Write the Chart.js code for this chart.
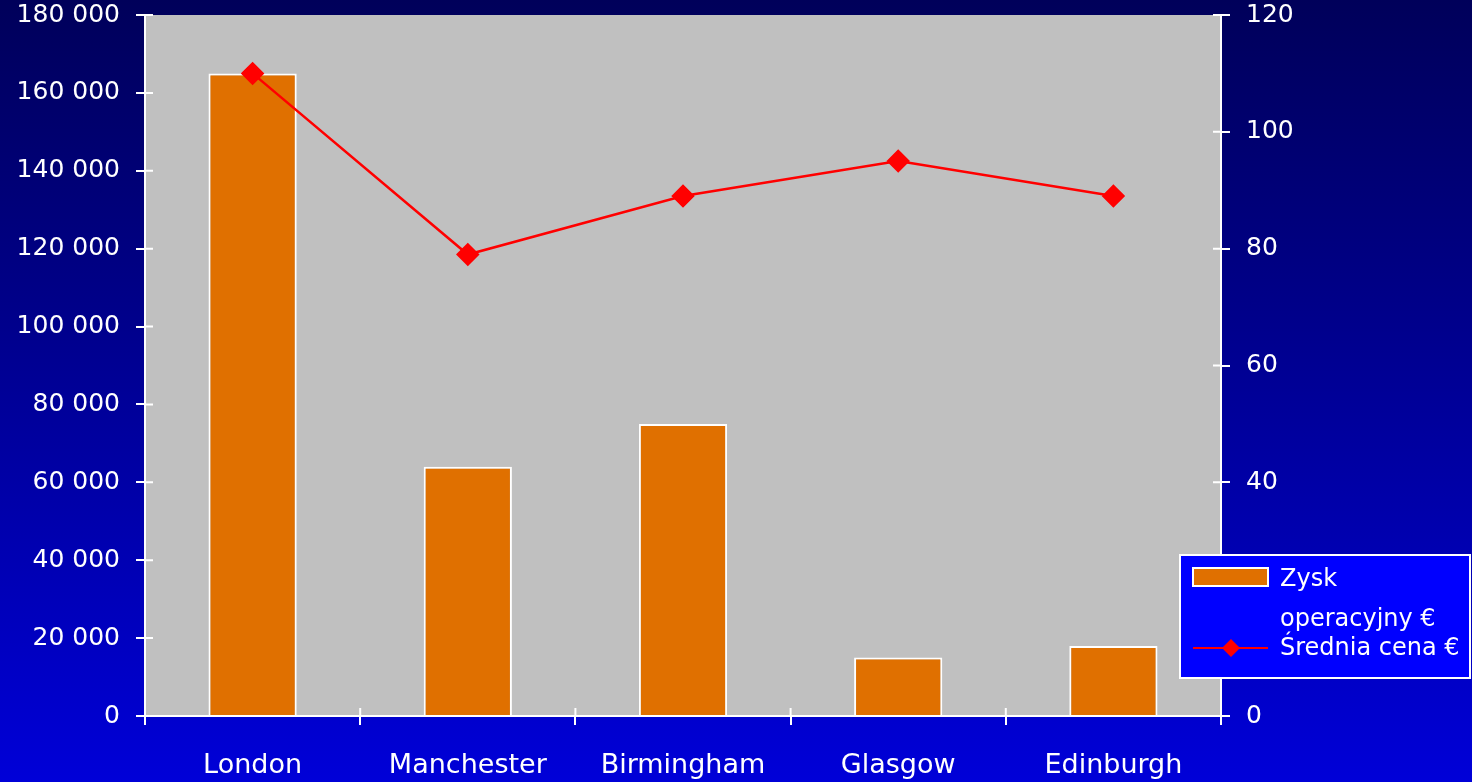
<!DOCTYPE html>
<html>
<head>
<meta charset="utf-8">
<script src="https://cdn.jsdelivr.net/npm/chart.js@4"></script>
<style>
  html, body { margin: 0; padding: 0; }
  body {
    width: 1472px; height: 782px; overflow: hidden;
    background: linear-gradient(to bottom, #00005a 0%, #00008a 40%, #0000d8 100%);
  }
  #wrap { position: relative; width: 1472px; height: 782px; }
</style>
</head>
<body>
<div id="wrap"><canvas id="chart"></canvas></div>
<script>
const cities = ['London', 'Manchester', 'Birmingham', 'Glasgow', 'Edinburgh'];
const profit = [165000, 64000, 75000, 15000, 18000];
const avgPrice = [110, 79, 89, 95, 89];
const profitLabel = ['Zysk', 'operacyjny €'];
const priceLabel = 'Średnia cena €';

const FONT = '"DejaVu Sans", Verdana, sans-serif';

// szare tło obszaru wykresu
const plotBg = {
    id: 'plotBg',
    beforeDraw(chart) {
        const { ctx, chartArea: a } = chart;
        ctx.save();
        ctx.fillStyle = '#c0c0c0';
        ctx.fillRect(a.left, a.top, a.right - a.left, a.bottom - a.top);
        ctx.restore();
    }
};

// wewnętrzna część kresek osi + legenda
const extras = {
    id: 'extras',
    afterDraw(chart) {
        const { ctx, chartArea: a, scales } = chart;
        ctx.save();
        ctx.strokeStyle = '#ffffff';
        ctx.lineWidth = 2;
        ctx.beginPath();
        scales.y.ticks.forEach((t, i) => {
            const y = scales.y.getPixelForTick(i);
            ctx.moveTo(a.left, y); ctx.lineTo(a.left + 8, y);
        });
        scales.y1.ticks.forEach((t, i) => {
            const y = scales.y1.getPixelForTick(i);
            ctx.moveTo(a.right, y); ctx.lineTo(a.right - 8, y);
        });
        const step = (a.right - a.left) / cities.length;
        for (let i = 0; i <= cities.length; i++) {
            const x = a.left + step * i;
            ctx.moveTo(x, a.bottom); ctx.lineTo(x, a.bottom - 8);
        }
        ctx.stroke();

        // legenda
        const lx = 1180, ly = 555, lw = 290, lh = 123;
        ctx.fillStyle = '#0000ff';
        ctx.fillRect(lx, ly, lw, lh);
        ctx.strokeStyle = '#ffffff';
        ctx.lineWidth = 2;
        ctx.strokeRect(lx, ly, lw, lh);

        ctx.fillStyle = '#e07000';
        ctx.fillRect(1193, 568, 75, 18);
        ctx.strokeRect(1193, 568, 75, 18);

        ctx.strokeStyle = '#ff0000';
        ctx.lineWidth = 2;
        ctx.beginPath();
        ctx.moveTo(1193, 648); ctx.lineTo(1268, 648);
        ctx.stroke();
        ctx.fillStyle = '#ff0000';
        ctx.beginPath();
        ctx.moveTo(1231, 639); ctx.lineTo(1240, 648); ctx.lineTo(1231, 657); ctx.lineTo(1222, 648);
        ctx.closePath();
        ctx.fill();

        ctx.fillStyle = '#ffffff';
        ctx.font = '24px ' + FONT;
        ctx.textBaseline = 'middle';
        ctx.textAlign = 'left';
        ctx.fillText(profitLabel[0], 1280, 580);
        ctx.fillText(profitLabel[1], 1280, 620);
        ctx.fillText(priceLabel, 1280, 649);
        ctx.restore();
    }
};

const fmt = v => String(v).replace(/\B(?=(\d{3})+(?!\d))/g, ' ');

new Chart(document.getElementById('chart'), {
    data: {
        labels: cities,
        datasets: [
            {
                type: 'line',
                label: priceLabel,
                data: avgPrice,
                yAxisID: 'y1',
                borderColor: '#ff0000',
                backgroundColor: '#ff0000',
                borderWidth: 2.5,
                pointStyle: 'rectRot',
                pointRadius: 10,
                pointHoverRadius: 10,
                tension: 0,
                order: 0
            },
            {
                type: 'bar',
                label: profitLabel.join(' '),
                data: profit,
                yAxisID: 'y',
                backgroundColor: '#e07000',
                borderColor: '#ffffff',
                borderWidth: 2,
                barPercentage: 0.41,
                categoryPercentage: 1,
                order: 1
            }
        ]
    },
    options: {
        responsive: true,
        maintainAspectRatio: false,
        animation: false,
        layout: { padding: { top: 15 } },
        plugins: { legend: { display: false }, tooltip: { enabled: false } },
        scales: {
            x: {
                afterFit(s) { s.height = 66; s.paddingLeft = 0; s.paddingRight = 0; },
                grid: { drawOnChartArea: false, color: '#ffffff', lineWidth: 2, tickLength: 9, offset: true },
                border: { color: '#ffffff', width: 2 },
                ticks: { color: '#ffffff', font: { family: FONT, size: 27 }, padding: 25 }
            },
            y: {
                position: 'left',
                min: 0, max: 180000,
                afterFit(s) { s.width = 145; s.paddingTop = 0; s.paddingBottom = 0; },
                grid: { drawOnChartArea: false, color: '#ffffff', lineWidth: 2, tickLength: 9 },
                border: { color: '#ffffff', width: 2 },
                ticks: { stepSize: 20000, color: '#ffffff', font: { family: FONT, size: 25 }, padding: 16, callback: v => fmt(v) }
            },
            y1: {
                position: 'right',
                min: 0, max: 120,
                afterFit(s) { s.width = 251; s.paddingTop = 0; s.paddingBottom = 0; },
                grid: { drawOnChartArea: false, color: '#ffffff', lineWidth: 2, tickLength: 9 },
                border: { color: '#ffffff', width: 2 },
                ticks: { stepSize: 20, color: '#ffffff', font: { family: FONT, size: 25 }, padding: 16 }
            }
        }
    },
    plugins: [plotBg, extras]
});
</script>
</body>
</html>
